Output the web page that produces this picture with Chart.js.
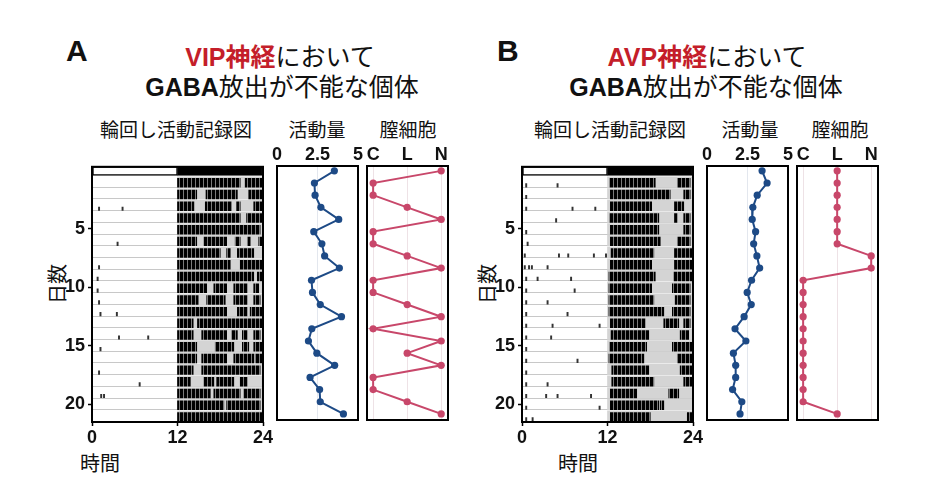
<!DOCTYPE html>
<html>
<head>
<meta charset="utf-8">
<script src="https://cdn.jsdelivr.net/npm/chart.js@4.4.1/dist/chart.umd.min.js"></script>
<style>
  body { margin: 0; width: 934px; height: 486px; background: #fff; position: relative; overflow: hidden;
         font-family: "Liberation Sans", "Noto Sans CJK JP", sans-serif; color: #111; }
  .t { position: absolute; white-space: nowrap; transform: translate(-50%, -50%); }
  .panel { font-size: 30px; font-weight: bold; transform: translate(0, -50%); }
  .title { font-size: 25px; }
  .title b { font-weight: bold; }
  .red { color: #c41e2a; font-weight: bold; }
  .sub { font-size: 19px; font-family: "Noto Sans CJK JP", sans-serif; }
  .axt { font-size: 20px; font-family: "Noto Sans CJK JP", sans-serif; }
  canvas { position: absolute; }
</style>
</head>
<body>

<div class="t panel" style="left:66px;top:51px">A</div>
<div class="t title" style="left:280px;top:55px"><span class="red">VIP神経</span>において</div>
<div class="t title" style="left:282px;top:85px"><b>GABA</b>放出が不能な個体</div>
<div class="t sub" style="left:176px;top:128px">輪回し活動記録図</div>
<div class="t sub" style="left:317px;top:128px">活動量</div>
<div class="t sub" style="left:408px;top:128px">膣細胞</div>
<div class="t axt" style="left:56px;top:284px;transform:translate(-50%,-50%) rotate(-90deg)">日数</div>
<div class="t axt" style="left:100px;top:462px">時間</div>

<div class="t panel" style="left:497px;top:51px">B</div>
<div class="t title" style="left:707px;top:55px"><span class="red">AVP神経</span>において</div>
<div class="t title" style="left:706px;top:85px"><b>GABA</b>放出が不能な個体</div>
<div class="t sub" style="left:610px;top:128px">輪回し活動記録図</div>
<div class="t sub" style="left:750px;top:128px">活動量</div>
<div class="t sub" style="left:840px;top:128px">膣細胞</div>
<div class="t axt" style="left:486px;top:284px;transform:translate(-50%,-50%) rotate(-90deg)">日数</div>
<div class="t axt" style="left:578px;top:462px">時間</div>

<script>
// ---- data ----
const days = [1, 2, 3, 4, 5, 6, 7, 8, 9, 10, 11, 12, 13, 14, 15, 16, 17, 18, 19, 20, 21];
const dayTicks = [5, 10, 15, 20];
const hourTicks = [0, 12, 24];

// light/dark bar above the actogram (hours)
const lightSchedule = [[0, 12], [12, 24]];
const ldColors = ['#ffffff', '#000000'];

// wheel-running bouts per day (hours)
const actoA = [
  [[12, 20.8], [21.5, 23.9]],
  [[12, 14.7], [16, 20.4], [22, 23.9]],
  [[12, 14.3], [15.9, 19.6], [20.3, 20.8], [22.7, 23.9]],
  [[12, 20.8], [21.7, 23.9]],
  [[12, 23.6]],
  [[12, 14.7], [15.7, 18.9], [20.1, 20.8], [21.8, 22.2], [23.4, 23.9]],
  [[12, 18], [18.9, 19.4], [20.4, 22.7]],
  [[12, 19.4], [20.8, 23.9]],
  [[12, 22.7], [23.2, 23.9]],
  [[12, 16.1], [17.1, 18.9], [19.9, 21.8], [22.7, 23.4]],
  [[12, 14.9], [16.1, 18.7], [19.9, 21.8], [22.7, 23.6]],
  [[12, 18.9], [20.4, 21.8], [22.2, 23.9]],
  [[12, 14.2], [14.8, 23.9]],
  [[12, 14.2], [15.4, 18.9], [19.6, 20.4], [21.1, 21.8], [22.7, 23.6]],
  [[12, 14.7], [17.3, 19.9], [21.1, 22], [22.7, 23.9]],
  [[12, 14.7], [15.4, 18.9], [19.9, 22.7], [22.9, 23.9]],
  [[12, 14.2], [15.4, 23.6]],
  [[12, 13.8], [15.7, 17.1], [17.5, 19.9], [20.8, 21.8]],
  [[12, 16.6], [17.1, 20.8], [21.3, 23.6]],
  [[12, 18.5], [18.9, 23.6]],
  [[12, 23.9]]
];
const actoB = [
  [[12.3, 18.7], [21.8, 23.6]],
  [[12.4, 20.8], [22.7, 23.6]],
  [[12.4, 18.2], [21.4, 22.7]],
  [[12.3, 19.2], [21.4, 21.8], [22.7, 23.6]],
  [[12.4, 19.2], [22.7, 23.6]],
  [[12.4, 19.4], [21.8, 23.6]],
  [[12.5, 18.5], [21.4, 23.9]],
  [[12.4, 18.2], [21.4, 23.9]],
  [[12.2, 18.7], [21.3, 23.9]],
  [[12.2, 18.2], [21.1, 23.6]],
  [[12.2, 18.5], [21.5, 23.6]],
  [[12.2, 19.9], [21.1, 23.6]],
  [[12.4, 17.3], [19.9, 22], [22.7, 23.6]],
  [[12.5, 17.8], [22.2, 23.4]],
  [[12.3, 17.5], [21.1, 23.9]],
  [[12.2, 17.1], [21.8, 23.9]],
  [[12.6, 17.8], [22.2, 23.9]],
  [[12.6, 18.5], [22.7, 23.9]],
  [[12.4, 16.1], [20.6, 22]],
  [[12.4, 19.2], [19.4, 19.9]],
  [[12.4, 18], [23.2, 23.9]]
];

// stray short runs during the light phase: [day, hour]
const strayA = [[3, 0.9], [3, 4.2], [6, 3.5], [8, 0.9], [9, 0.7], [10, 0.7], [11, 0.9],
                [12, 1.1], [12, 3.4], [14, 3.7], [14, 7.8], [15, 1.1], [17, 0.9], [18, 6.6],
                [19, 1.2], [19, 1.6]];
const strayB = [[1, 0.5], [1, 4.9], [2, 0.5], [3, 0.5], [3, 7.0], [3, 10.2], [4, 4.7],
                [5, 0.5], [6, 0.7], [7, 0.3], [7, 5.1], [7, 6.4], [7, 10.0], [7, 11.7],
                [8, 0.3], [8, 0.9], [8, 1.3], [8, 3.5], [9, 0.5], [9, 2.1], [9, 6.8],
                [10, 0.5], [10, 7.3], [11, 0.5], [11, 3.5], [12, 0.5], [12, 6.3], [13, 0.5],
                [13, 4.2], [13, 10.8], [14, 0.5], [14, 4.0], [15, 0.5], [16, 0.5], [16, 7.7],
                [17, 0.5], [18, 0.5], [18, 3.5], [19, 0.5], [19, 3.3], [19, 4.9], [19, 9.6],
                [20, 0.5], [20, 10.8], [21, 0.5], [21, 1.4]];

// daily activity amount
const activityA = [3.54, 2.31, 2.35, 2.71, 3.81, 2.27, 2.77, 2.94, 3.85, 2.13, 2.19,
                   2.67, 3.98, 2.15, 1.94, 2.46, 3.56, 2.04, 2.63, 2.67, 4.10];
const activityB = [3.40, 3.71, 3.10, 2.83, 2.79, 3.00, 2.88, 3.08, 3.25, 2.75, 2.48,
                   2.73, 2.29, 1.73, 2.40, 1.63, 1.77, 1.77, 1.58, 2.15, 2.04];

// vaginal cytology stage per day
const stageLabels = ['C', 'L', 'N'];
const stageA = ['N', 'C', 'C', 'L', 'N', 'C', 'C', 'L', 'N', 'C', 'C',
                'L', 'N', 'C', 'N', 'L', 'N', 'C', 'C', 'L', 'N'];
const stageB = ['L', 'L', 'L', 'L', 'L', 'L', 'L', 'N', 'N', 'C', 'C',
                'C', 'C', 'C', 'C', 'C', 'C', 'C', 'C', 'C', 'L'];

// ---- style ----
const navy = '#1d4a86';
const rose = '#c8476a';
const tickFont = { family: '"Liberation Sans", Arial, sans-serif', size: 18, weight: 'bold' };
const ldRow = 0.06;
const Y_MIN = -0.3, Y_MAX = 21.5;

// striped fill for the running bouts
const tile = document.createElement('canvas');
tile.width = 4; tile.height = 4;
const tctx = tile.getContext('2d');
tctx.fillStyle = '#000'; tctx.fillRect(0, 0, 4, 4);
tctx.fillStyle = '#7a7a7a'; tctx.fillRect(3, 0, 1, 4);
const boutFill = tctx.createPattern(tile, 'repeat');

// frame around the plot area
const boxPlugin = {
  id: 'box',
  afterDatasetsDraw(chart) {
    const a = chart.chartArea, ctx = chart.ctx;
    ctx.save();
    ctx.strokeStyle = '#000';
    ctx.lineWidth = 2;
    ctx.strokeRect(a.left, a.top, a.right - a.left, a.bottom - a.top);
    ctx.restore();
  }
};

function place(left, top, w, h) {
  const c = document.createElement('canvas');
  c.width = w; c.height = h;
  c.style.left = left + 'px'; c.style.top = top + 'px';
  c.style.width = w + 'px'; c.style.height = h + 'px';
  document.body.appendChild(c);
  return c;
}

const common = {
  responsive: false,
  animation: false,
  plugins: { legend: { display: false }, tooltip: { enabled: false } }
};

// hidden day axis (each bar layer gets its own so bar widths are computed per layer)
const hiddenDayAxis = () => ({ type: 'linear', min: Y_MIN, max: Y_MAX, reverse: true, offset: false, display: false });

// Actogram
function makeActogram(areaLeft, acto, stray) {
  const canvas = place(areaLeft - 40, 153, 225, 297);
  const bouts = [];
  // bouts sit on the row baseline, slightly shorter than the grey band
  acto.forEach((row, i) => row.forEach(b => bouts.push({ x: b, y: days[i] + 0.07 })));

  new Chart(canvas, {
    type: 'bar',
    data: {
      datasets: [
        { data: bouts, yAxisID: 'yb', backgroundColor: boutFill, maxBarThickness: 8.8, order: 0 },
        { data: stray.map(s => ({ x: [s[1], s[1] + 0.18], y: s[0] + 0.28 })), yAxisID: 'ys',
          backgroundColor: '#333', maxBarThickness: 3.5, order: 0 },
        { data: days.map(d => ({ x: [12, 24], y: d })), yAxisID: 'y', backgroundColor: '#d4d4d4',
          maxBarThickness: 10.5, order: 2 },
        { data: lightSchedule.map(p => ({ x: p, y: ldRow })), yAxisID: 'yl', backgroundColor: ldColors,
          borderColor: '#000', borderWidth: 1.5, borderSkipped: false, maxBarThickness: 9, order: 1 }
      ]
    },
    options: {
      ...common,
      indexAxis: 'y',
      datasets: { bar: { grouped: false, barPercentage: 1, categoryPercentage: 1 } },
      layout: { padding: { top: 2, right: 14, left: 0, bottom: 0 } },
      scales: {
        x: {
          type: 'linear', min: 0, max: 24, offset: false,
          afterBuildTicks: s => { s.ticks = hourTicks.map(v => ({ value: v })); },
          ticks: { font: tickFont, color: '#111', padding: 1, maxRotation: 0 },
          grid: { drawOnChartArea: false, offset: false, tickLength: 4, tickColor: '#000', tickWidth: 1.5 },
          border: { display: false },
          afterFit: s => { s.height = 28; }
        },
        y: {
          type: 'linear', min: Y_MIN, max: Y_MAX, reverse: true, offset: false,
          afterBuildTicks: s => { s.ticks = dayTicks.map(v => ({ value: v })); },
          ticks: { font: tickFont, color: '#111', padding: 3, autoSkip: false },
          grid: { drawOnChartArea: false, offset: false, tickLength: 4, tickColor: '#000', tickWidth: 1.5 },
          border: { display: false },
          afterFit: s => { s.width = 40; }
        },
        yg: {
          type: 'linear', position: 'left', min: Y_MIN, max: Y_MAX, reverse: true, offset: false,
          afterBuildTicks: s => { s.ticks = days.map(d => ({ value: d + 0.45 })); },
          ticks: { display: false },
          grid: { drawTicks: false, offset: false, color: '#c8c8c8', lineWidth: 1 },
          border: { display: false },
          afterFit: s => { s.width = 0; }
        },
        yb: hiddenDayAxis(),
        ys: hiddenDayAxis(),
        yl: hiddenDayAxis()
      }
    },
    plugins: [boxPlugin]
  });
}

// Activity / cytology strip
function makeStrip(areaLeft, points, color, xOpts) {
  const canvas = place(areaLeft - 12, 138, 105, 286);
  new Chart(canvas, {
    type: 'line',
    data: {
      datasets: [{
        data: points.map((v, i) => ({ x: v, y: days[i] })),
        borderColor: color, backgroundColor: color,
        borderWidth: 2, pointRadius: 3.6, pointBorderWidth: 0,
        pointBackgroundColor: color, tension: 0, clip: false
      }]
    },
    options: {
      ...common,
      indexAxis: 'y',
      layout: { padding: { left: 12, right: 12, top: 0, bottom: 2 } },
      scales: {
        x: Object.assign({
          type: 'linear', position: 'top',
          border: { display: false },
          afterFit: s => { s.height = 28; }
        }, xOpts),
        y: { type: 'linear', min: 0.6, max: 21.5, reverse: true, display: false }
      }
    },
    plugins: [boxPlugin]
  });
}

const activityAxis = {
  min: 0, max: 5,
  ticks: { stepSize: 2.5, font: tickFont, color: '#111', padding: 0 },
  grid: { drawTicks: false, color: c => (c.tick && c.tick.value === 2.5) ? '#e3e7ee' : 'rgba(0,0,0,0)' }
};
const stageAxis = {
  min: -0.18, max: 2.2,
  afterBuildTicks: s => { s.ticks = stageLabels.map((l, i) => ({ value: i })); },
  ticks: { font: tickFont, color: '#111', padding: 0, callback: v => stageLabels[v] },
  grid: { drawTicks: false, color: '#eee2e6' }
};

makeActogram(92, actoA, strayA);
makeStrip(277, activityA, navy, activityAxis);
makeStrip(367, stageA.map(s => stageLabels.indexOf(s)), rose, stageAxis);

makeActogram(522, actoB, strayB);
makeStrip(707, activityB, navy, activityAxis);
makeStrip(797, stageB.map(s => stageLabels.indexOf(s)), rose, stageAxis);
</script>
</body>
</html>
